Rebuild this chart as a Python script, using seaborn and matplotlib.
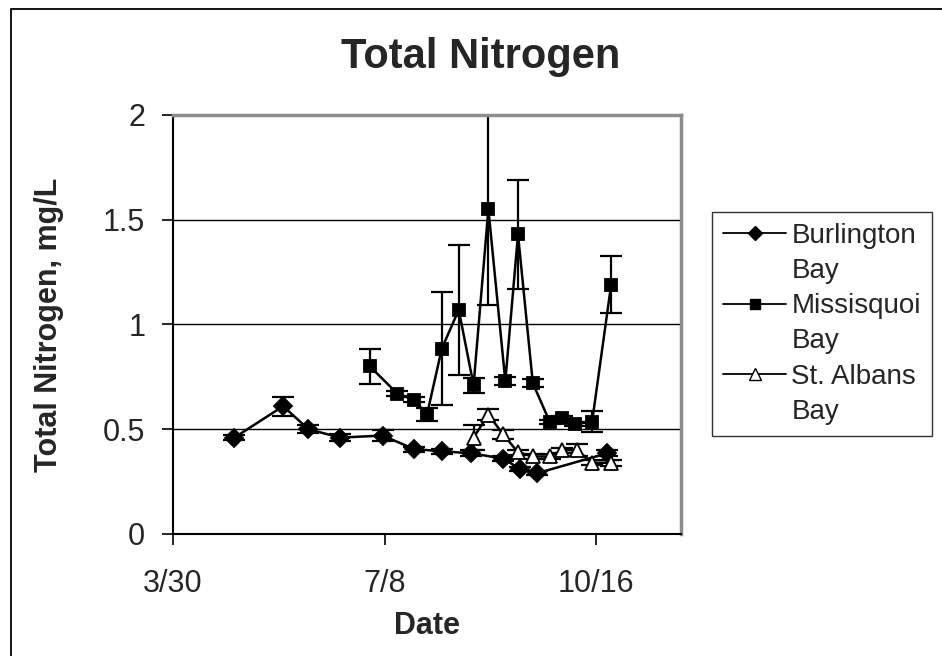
import pandas as pd
import matplotlib
matplotlib.use("Agg")
import matplotlib.pyplot as plt
import matplotlib.dates as mdates
from matplotlib.lines import Line2D
import seaborn as sns

# Burlington Bay
burl_dates = ["4/28", "5/21", "6/2", "6/17", "7/7", "7/22", "8/4", "8/18",
              "9/2", "9/10", "9/18", "10/21"]
burl_tn = [0.46, 0.61, 0.50, 0.46, 0.47, 0.405, 0.395, 0.385, 0.36, 0.31, 0.29, 0.385]
burl_err = [0.012, 0.045, 0.02, 0.015, 0.025, 0.012, 0.012, 0.015, 0.01, 0.01, 0.01, 0.015]

# Missisquoi Bay
miss_dates = ["7/1", "7/14", "7/22", "7/28", "8/4", "8/12", "8/19", "8/26",
              "9/3", "9/9", "9/16", "9/24", "9/30", "10/6", "10/14", "10/23"]
miss_tn = [0.80, 0.67, 0.64, 0.57, 0.885, 1.07, 0.71, 1.55,
           0.73, 1.43, 0.72, 0.535, 0.555, 0.525, 0.535, 1.19]
miss_err = [0.082, 0.012, 0.012, 0.03, 0.27, 0.31, 0.035, 0.455,
            0.02, 0.26, 0.02, 0.01, 0.01, 0.01, 0.05, 0.135]

# St. Albans Bay
stal_dates = ["8/19", "8/26", "9/2", "9/9", "9/16", "9/24", "9/30", "10/7", "10/14", "10/23"]
stal_tn = [0.46, 0.57, 0.475, 0.39, 0.37, 0.37, 0.40, 0.40, 0.34, 0.34]
stal_err = [0.06, 0.025, 0.02, 0.012, 0.01, 0.01, 0.012, 0.03, 0.012, 0.015]

year = "2004"


def to_dates(md):
    return pd.to_datetime([year + "/" + d for d in md], format="%Y/%m/%d")


series = [
    ("Burlington", burl_dates, burl_tn, burl_err, "D", "black", 9),
    ("Missisquoi", miss_dates, miss_tn, miss_err, "s", "black", 8.5),
    ("St. Albans", stal_dates, stal_tn, stal_err, "^", "white", 10),
]

sns.set_style("white")
plt.rcParams["font.family"] = ["Liberation Sans", "DejaVu Sans"]

fig = plt.figure(figsize=(9.42, 6.56), dpi=100)
ax = fig.add_axes([0.1837, 0.186, 0.5392, 0.6387])

handles = []
labels = []
blank = Line2D([], [], linestyle="none", marker="none")
for name, md, tn, err, mk, fc, ms in series:
    df = pd.DataFrame({"date": to_dates(md), "tn": tn})
    ax.errorbar(df["date"], df["tn"], yerr=err, fmt="none", ecolor="black",
                elinewidth=1.6, capsize=8, capthick=1.6, zorder=2)
    sns.lineplot(data=df, x="date", y="tn", ax=ax, color="black", lw=1.8,
                 marker=mk, markersize=ms, markerfacecolor=fc,
                 markeredgecolor="black", markeredgewidth=1.3,
                 legend=False, zorder=3)
    handles += [Line2D([], [], color="black", lw=1.3, marker=mk, markersize=ms * 0.8,
                       markerfacecolor=fc, markeredgecolor="black"), blank]
    labels += [name, "Bay"]

start = pd.Timestamp(year + "-03-30")
ax.set_xlim(start, start + pd.Timedelta(days=240))
ax.set_xticks([start, start + pd.Timedelta(days=100), start + pd.Timedelta(days=200)])
ax.xaxis.set_major_formatter(plt.FuncFormatter(
    lambda v, p: "%d/%d" % (mdates.num2date(v).month, mdates.num2date(v).day)))
ax.set_ylim(0, 2)
ax.set_yticks([0, 0.5, 1, 1.5, 2])
ax.set_yticklabels(["0", "0.5", "1", "1.5", "2"])

ax.yaxis.grid(True, color="black", lw=1)
ax.xaxis.grid(False)
for s in ["left", "bottom"]:
    ax.spines[s].set_color("black")
    ax.spines[s].set_linewidth(1.5)
for s in ["top", "right"]:
    ax.spines[s].set_color("#8c8c8c")
    ax.spines[s].set_linewidth(2.5)
ax.tick_params(axis="both", direction="out", length=8, width=1.2,
               labelsize=22, left=True, bottom=True, color="black")
ax.tick_params(axis="x", pad=17)
ax.tick_params(axis="y", pad=12)

ax.set_xlabel("Date", fontsize=22, fontweight="bold", labelpad=9)
ax.set_ylabel("Total Nitrogen, mg/L", fontsize=22, fontweight="bold", labelpad=28)
fig.text(0.51, 0.913, "Total Nitrogen", fontsize=30, fontweight="bold",
         ha="center", va="center")

leg = ax.legend(handles, labels, loc="upper left", bbox_to_anchor=(0.756, 0.677),
                bbox_transform=fig.transFigure, fontsize=20, frameon=True,
                fancybox=False, edgecolor="black", handlelength=2.25,
                borderpad=0.4, labelspacing=0.33, handletextpad=0.2,
                borderaxespad=0)
leg.get_frame().set_linewidth(1)

fig.add_artist(Line2D([0.0117, 0.0117, 1.0], [0.0, 0.986, 0.986],
                      transform=fig.transFigure, color="black", lw=1.3))

fig.savefig("out.png", dpi=100)
